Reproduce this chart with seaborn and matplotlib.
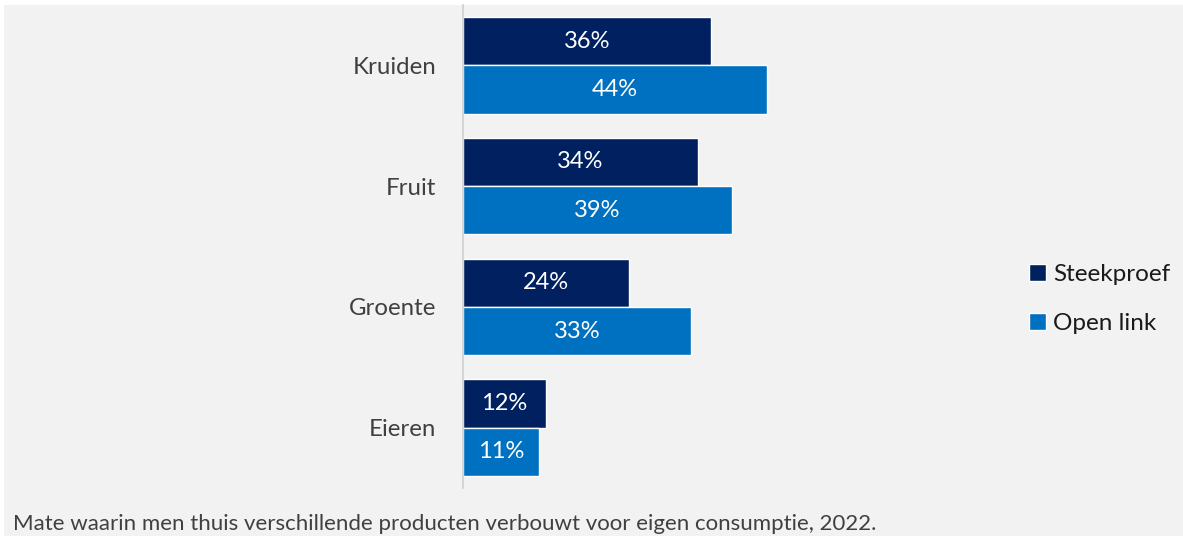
import matplotlib
matplotlib.use("Agg")
import matplotlib.pyplot as plt
import seaborn as sns
import pandas as pd
from matplotlib.patches import Rectangle

categories = ["Kruiden", "Fruit", "Groente", "Eieren"]
series_names = ["Steekproef", "Open link"]
steekproef = [36, 34, 24, 12]
open_link = [44, 39, 33, 11]
caption = "Mate waarin men thuis verschillende producten verbouwt voor eigen consumptie, 2022."

colors = {"Steekproef": "#002060", "Open link": "#0070C0"}
bg = "#f2f2f2"

df = pd.DataFrame({
    "categorie": categories * 2,
    "reeks": [series_names[0]] * len(categories) + [series_names[1]] * len(categories),
    "waarde": steekproef + open_link,
})

sns.set_theme(style="white")
plt.rcParams["font.family"] = ["Lato", "DejaVu Sans"]

fig = plt.figure(figsize=(11.83, 5.36), dpi=100, facecolor=bg)
# white border strips at top and left as in reference
fig.patches.append(Rectangle((0, 1 - 5 / 536), 1, 5 / 536, transform=fig.transFigure,
                             facecolor="white", edgecolor="none", zorder=-1))
fig.patches.append(Rectangle((0, 0), 4 / 1183, 1, transform=fig.transFigure,
                             facecolor="white", edgecolor="none", zorder=-1))

ax = fig.add_axes([463 / 1183, 1 - 488 / 536, (1015 - 463) / 1183, (488 - 5) / 536])
ax.set_facecolor(bg)

sns.barplot(data=df, y="categorie", x="waarde", hue="reeks", order=categories,
            hue_order=series_names, palette=colors, orient="h", width=0.8,
            saturation=1, ax=ax, legend=True)

for cont in ax.containers:
    ax.bar_label(cont, labels=[f"{v:.0f}%" for v in cont.datavalues],
                 label_type="center", color="white", fontsize=17)

ax.set_xlim(0, 80)
ax.set_ylim(3.5, -0.5)
ax.set_xlabel("")
ax.set_ylabel("")
ax.set_xticks([])
ax.tick_params(axis="y", length=0, labelsize=17.3, labelcolor="#404040", pad=19)
for s in ["top", "right", "bottom"]:
    ax.spines[s].set_visible(False)
ax.spines["left"].set_color("#d0d0d0")
ax.spines["left"].set_linewidth(1.2)

handles, labels = ax.get_legend_handles_labels()
ax.legend(handles, labels, loc="center left", bbox_to_anchor=(1029 / 1183, 1 - 299 / 536),
          bbox_transform=fig.transFigure, frameon=False, fontsize=17.5,
          handlelength=0.7, handleheight=0.7, handletextpad=0.3, labelspacing=1.12,
          borderaxespad=0, borderpad=0,
          labelcolor="#1a1a1a")

fig.text(13 / 1183, 1 - 524 / 536, caption, fontsize=16, color="#404040",
         va="center", ha="left")

fig.savefig("out.png", dpi=100, facecolor=bg)
